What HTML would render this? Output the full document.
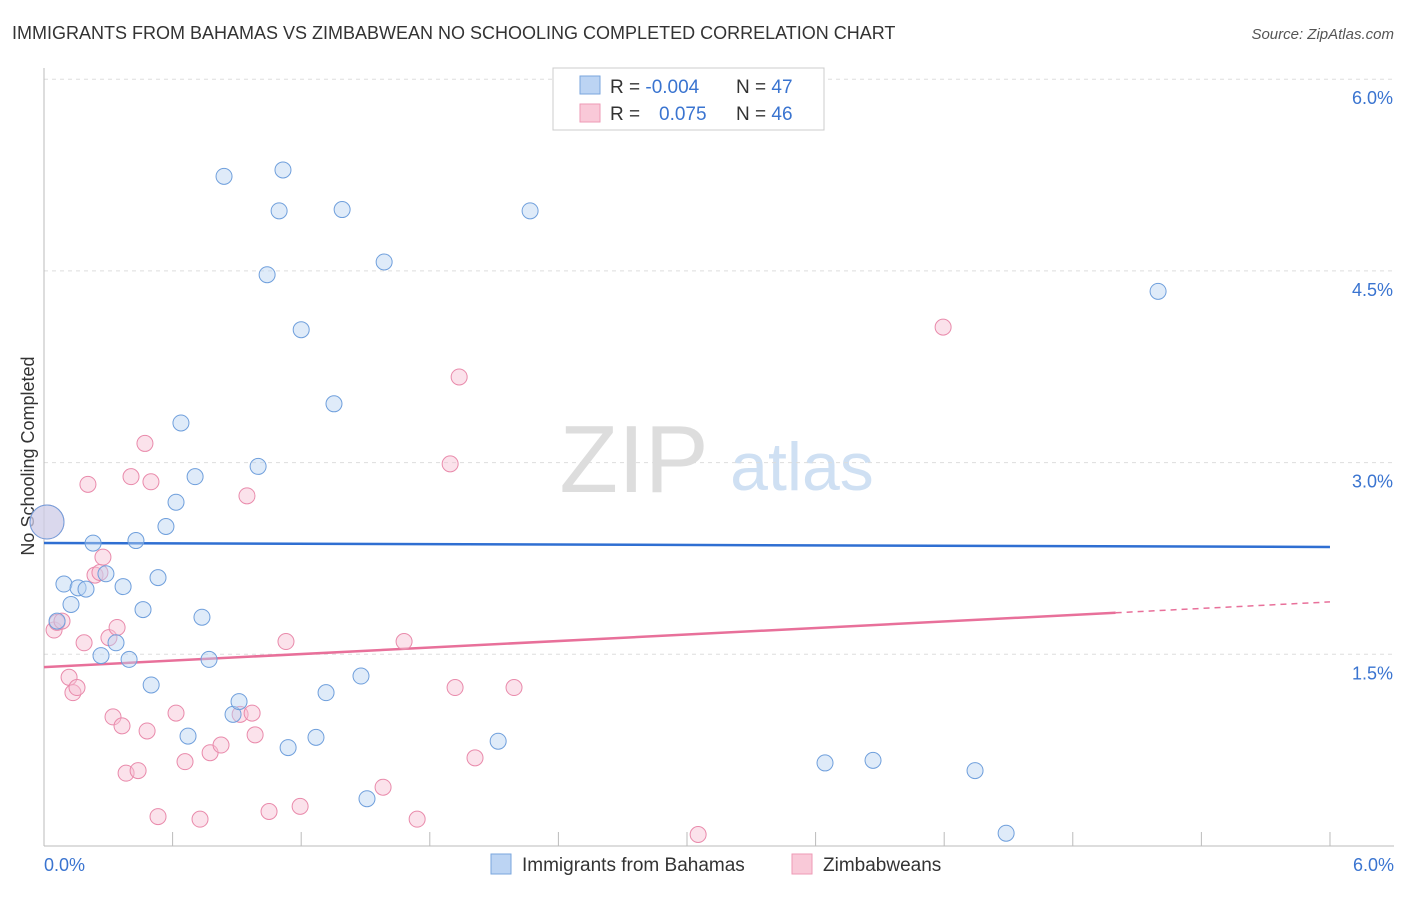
<!DOCTYPE html>
<html><head><meta charset="utf-8"><style>
body{margin:0;background:#fff;font-family:"Liberation Sans",sans-serif;}
svg text{font-family:"Liberation Sans",sans-serif;}
</style></head><body>
<svg id="chart" width="1406" height="892" viewBox="0 0 1406 892">
<text x="12" y="39" font-size="18" fill="#333">IMMIGRANTS FROM BAHAMAS VS ZIMBABWEAN NO SCHOOLING COMPLETED CORRELATION CHART</text>
<text x="1394" y="39" font-size="15" fill="#555" font-style="italic" text-anchor="end">Source: ZipAtlas.com</text>
<text x="34" y="456" font-size="18" fill="#333" text-anchor="middle" transform="rotate(-90 34 456)">No Schooling Completed</text>
<g><text x="634" y="492" font-size="96" font-family="Liberation Serif" fill="#ddd" text-anchor="middle">ZIP</text><text x="802" y="490" font-size="68" fill="#cfe0f3" text-anchor="middle">atlas</text></g>
<g id="grid"></g><g id="axes"></g><g id="lines"></g><g id="pts"></g>
<g>
<rect x="553" y="68" width="271" height="62" fill="#fff" stroke="#ccc"/>
<rect x="580" y="76" width="20" height="18" fill="#bcd4f3" stroke="#7aa6de"/>
<rect x="580" y="104" width="20" height="18" fill="#f9c9d8" stroke="#ee9ab6"/>
<text x="610" y="93" font-size="19" fill="#333">R = <tspan fill="#3a74d0">-0.004</tspan><tspan x="736">N = </tspan><tspan fill="#3a74d0">47</tspan></text>
<text x="610" y="120" font-size="19" fill="#333">R = <tspan fill="#3a74d0" x="659">0.075</tspan><tspan x="736">N = </tspan><tspan fill="#3a74d0">46</tspan></text>
</g>
<g>
<rect x="491" y="854" width="20" height="20" fill="#bcd4f3" stroke="#7aa6de"/>
<text x="522" y="871" font-size="19" fill="#333">Immigrants from Bahamas</text>
<rect x="792" y="854" width="20" height="20" fill="#f9c9d8" stroke="#ee9ab6"/>
<text x="823" y="871" font-size="19" fill="#333">Zimbabweans</text>
</g>
</svg>
<script>
const NS="http://www.w3.org/2000/svg";
const yTicks=[1.5,3.0,4.5,6.0];
const yTickLabels=["1.5%","3.0%","4.5%","6.0%"];
const xLabels=["0.0%","6.0%"];
const blueX=[0.014,0.093,0.126,0.159,0.196,0.229,0.061,0.266,0.289,0.336,0.369,0.397,0.429,0.462,0.5,0.532,0.569,0.616,0.639,0.672,0.705,0.737,0.770,0.840,0.882,0.910,0.999,1.041,1.097,1.115,1.139,1.200,1.269,1.316,1.353,1.391,1.479,1.507,1.587,2.119,2.268,3.122,3.644,3.868,4.344,4.489,5.198];
const blueY=[2.535,2.05,1.89,2.02,2.01,2.37,1.76,1.49,2.13,1.59,2.03,1.46,2.39,1.85,1.26,2.10,2.50,2.69,3.31,0.86,2.89,1.79,1.46,5.24,1.03,1.13,2.97,4.47,4.97,5.29,0.77,4.04,0.85,1.20,3.46,4.98,1.33,0.37,4.57,0.82,4.97,5.73,0.65,0.67,0.59,0.10,4.34];
const pinkX=[0.014,0.047,0.061,0.084,0.117,0.135,0.154,0.187,0.205,0.238,0.261,0.275,0.303,0.322,0.341,0.364,0.383,0.406,0.439,0.471,0.481,0.499,0.532,0.616,0.658,0.728,0.775,0.826,0.915,0.947,0.971,0.985,1.050,1.129,1.195,1.582,1.680,1.741,1.895,1.918,1.937,2.011,2.193,3.052,4.195];
const pinkY=[2.535,1.69,1.75,1.76,1.32,1.20,1.24,1.59,2.83,2.12,2.14,2.26,1.63,1.01,1.71,0.94,0.57,2.89,0.59,3.15,0.90,2.85,0.23,1.04,0.66,0.21,0.73,0.79,1.03,2.74,1.04,0.87,0.27,1.60,0.31,0.46,1.60,0.21,2.99,1.24,3.67,0.69,1.24,0.09,4.06];
const blueLine=[2.371,2.34];
const pinkLine=[1.40,1.91];
const pinkSolidEnd=5.0;
const X=v=>44+v*214.33, Y=v=>846-v*127.8;
function mk(t,a,p){const e=document.createElementNS(NS,t);for(const k in a)e.setAttribute(k,a[k]);(p||document.getElementById('chart')).appendChild(e);return e;}
const grid=document.getElementById('grid'),axes=document.getElementById('axes'),lines=document.getElementById('lines'),pts=document.getElementById('pts');
yTicks.forEach((t,i)=>{
 const l=mk('line',{x1:44,x2:1394,y1:Y(t),y2:Y(t),stroke:'#ddd','stroke-dasharray':'4 4'},grid);
 
 
 const tx=mk('text',{x:1393,y:Y(t)+25,'font-size':18,fill:'#3a74d0','text-anchor':'end'},axes);tx.textContent=yTickLabels[i];
 
 
});
const ax=mk('line',{x1:44,x2:44,y1:68,y2:846,stroke:'#bbb'},axes);


const bx=mk('line',{x1:44,x2:1394,y1:846,y2:846,stroke:'#bbb'},axes);


for(let i=0;i<=10;i++){const t=mk('line',{x1:X(i*0.6),x2:X(i*0.6),y1:832,y2:846,stroke:'#bbb'},axes);
 
 }
[[0,'start',44],[6,'end',1394]].forEach((d,i)=>{const t=mk('text',{x:d[2],y:871,'font-size':18,fill:'#3a74d0','text-anchor':d[1]},axes);t.textContent=xLabels[i];
 
 });
function dots(xs,ys,fill,stroke,name){xs.forEach((x,i)=>{const big=i===0;const c=mk('circle',{cx:X(x),cy:Y(ys[i]),r:big?17:8,fill:fill,'fill-opacity':big?0.5:0.45,stroke:stroke,'stroke-width':1},pts);
 
 });}
dots(pinkX,pinkY,'#f7bfd2','#e98aab','zimbabweans-point');
dots(blueX,blueY,'#b9d2f2','#6f9fdc','bahamas-point');
const bl=mk('line',{x1:X(0),y1:Y(blueLine[0]),x2:X(6),y2:Y(blueLine[1]),stroke:'#2f6fd2','stroke-width':2.5},lines);


const pv=x=>pinkLine[0]+(pinkLine[1]-pinkLine[0])*x/6;
const pl=mk('line',{x1:X(0),y1:Y(pv(0)),x2:X(pinkSolidEnd),y2:Y(pv(pinkSolidEnd)),stroke:'#e8709a','stroke-width':2.5},lines);


const pd=mk('line',{x1:X(pinkSolidEnd),y1:Y(pv(pinkSolidEnd)),x2:X(6),y2:Y(pv(6)),stroke:'#e8709a','stroke-width':1.5,'stroke-dasharray':'6 5'},lines);


</script>
</body></html>
